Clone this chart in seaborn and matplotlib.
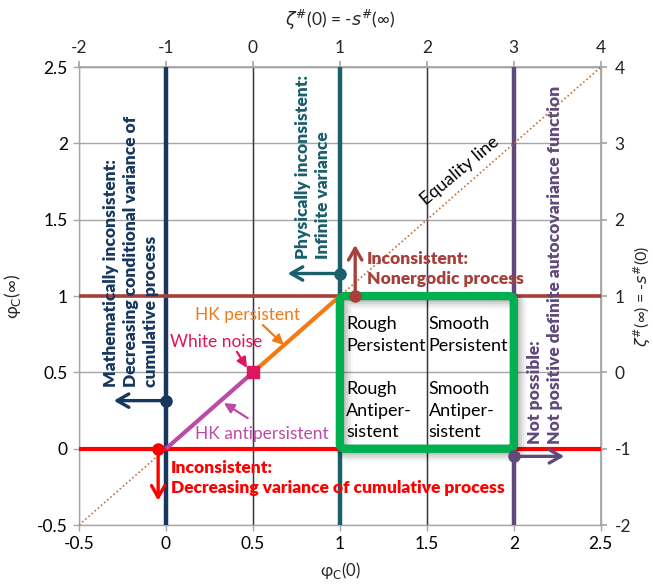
import matplotlib
matplotlib.use("Agg")
import matplotlib.pyplot as plt
from matplotlib.patches import FancyBboxPatch
import seaborn as sns
import pandas as pd

# Axis ranges and tick values
x_ticks = [-0.5, 0, 0.5, 1, 1.5, 2, 2.5]
x_tick_labels = ["-0.5", "0", "0.5", "1", "1.5", "2", "2.5"]
y_ticks = [-0.5, 0, 0.5, 1, 1.5, 2, 2.5]
y_tick_labels = ["-0.5", "0", "0.5", "1", "1.5", "2", "2.5"]
top_ticks = [-2, -1, 0, 1, 2, 3, 4]
right_ticks = [-2, -1, 0, 1, 2, 3, 4]

# Boundary lines of the admissible region
bound_x = [0, 1, 2]           # vertical limits of φC(0)
bound_y = [0, 1]              # horizontal limits of φC(∞)

# Equality line and the HK process branches
equality_x = [-0.5, 2.5]
hk_anti_x = [0.0, 0.5]
hk_pers_x = [0.5, 1.0]
white_noise = [0.5, 0.5]

# Admissible region box (x0, y0, x1, y1)
region = [1.0, 0.0, 2.0, 1.0]

# Constraint markers: start point and arrow tip
navy_start, navy_tip = (0.0, 0.315), (-0.30, 0.315)
teal_start, teal_tip = (1.0, 1.148), (0.70, 1.148)
brown_start, brown_tip = (1.088, 1.0), (1.088, 1.335)
red_start, red_tip = (-0.045, 0.0), (-0.045, -0.34)
purple_start, purple_tip = (2.0, -0.05), (2.29, -0.05)

NAVY = "#17375E"
TEAL = "#1B5E6C"
BROWN = "#A5403B"
RED = "#FF0000"
PURPLE = "#604A7B"
ORANGE = "#F47A12"
MAGENTA = "#BC4BA8"
CRIMSON = "#E0155D"
GREEN = "#00B050"
GRID = "#A6A6A6"

sns.set_theme(style="white")
plt.rcParams["font.family"] = ["Lato", "DejaVu Sans"]
plt.rcParams["axes.unicode_minus"] = False
plt.rcParams["mathtext.fontset"] = "dejavusans"

fig, ax = plt.subplots(figsize=(6.53, 5.84), dpi=100)
fig.subplots_adjust(left=0.121, right=0.920, bottom=0.101, top=0.885)

ax.set_xlim(-0.5, 2.5)
ax.set_ylim(-0.5, 2.5)

# Grid
for v in x_ticks:
    ax.axvline(v, color=GRID, lw=1.0, zorder=1)
for v in y_ticks:
    ax.axhline(v, color=GRID, lw=1.0, zorder=1)
for v in [0.5, 1.5]:
    ax.axvline(v, color="#403152", lw=1.0, zorder=1.5)

# Boundary lines
ax.axvline(bound_x[0], color=NAVY, lw=3.2, zorder=3)
ax.axvline(bound_x[1], color=TEAL, lw=3.2, zorder=3)
ax.axvline(bound_x[2], color=PURPLE, lw=3.2, zorder=3)
ax.axhline(bound_y[1], color=BROWN, lw=2.6, zorder=3)
ax.axhline(bound_y[0], color=RED, lw=3.0, zorder=3.1)

# Equality line and HK branches
eq_df = pd.DataFrame({"x": equality_x, "y": equality_x})
sns.lineplot(data=eq_df, x="x", y="y", ax=ax, color="#C0703A", lw=1.2,
             linestyle=(0, (1, 1.5)), zorder=4)
anti_df = pd.DataFrame({"x": hk_anti_x, "y": hk_anti_x})
sns.lineplot(data=anti_df, x="x", y="y", ax=ax, color=MAGENTA, lw=3.0,
             zorder=5, solid_capstyle="butt")
pers_df = pd.DataFrame({"x": hk_pers_x, "y": hk_pers_x})
sns.lineplot(data=pers_df, x="x", y="y", ax=ax, color=ORANGE, lw=3.0,
             zorder=5, solid_capstyle="butt")
ax.plot([white_noise[0]], [white_noise[1]], marker="s", ms=9,
        color=CRIMSON, zorder=6, ls="none")

# Admissible region box with a soft shadow
x0, y0, x1, y1 = region
for i, a in enumerate([0.10, 0.08, 0.06, 0.04]):
    off = 0.008 + 0.006 * i
    sh = FancyBboxPatch((x0 + off, y0 - off * 1.15), x1 - x0, y1 - y0,
                        boxstyle="round,pad=0,rounding_size=0.03",
                        fill=False, ec="black", lw=6 + 2 * i, alpha=a,
                        zorder=6)
    ax.add_patch(sh)
box = FancyBboxPatch((x0, y0), x1 - x0, y1 - y0,
                     boxstyle="round,pad=0,rounding_size=0.03",
                     fill=False, ec=GREEN, lw=6.0, zorder=7)
ax.add_patch(box)

box_kw = dict(fontsize=13, color="black", va="center", ha="left",
              linespacing=1.4, zorder=8)
ax.text(1.035, 0.745, "Rough\nPersistent", **box_kw)
ax.text(1.51, 0.745, "Smooth\nPersistent", **box_kw)
ax.text(1.035, 0.25, "Rough\nAntiper-\nsistent", **box_kw)
ax.text(1.51, 0.25, "Smooth\nAntiper-\nsistent", **box_kw)


def constraint(start, tip, color):
    ax.annotate("", xy=tip, xytext=start,
                arrowprops=dict(arrowstyle="->,head_length=0.7,head_width=0.4",
                                color=color, lw=2.4, shrinkA=0, shrinkB=0),
                zorder=9)
    ax.plot([start[0]], [start[1]], marker="o", ms=8, color=color,
            zorder=10, ls="none")


constraint(navy_start, navy_tip, NAVY)
constraint(teal_start, teal_tip, TEAL)
constraint(brown_start, brown_tip, BROWN)
constraint(red_start, red_tip, RED)
constraint(purple_start, purple_tip, PURPLE)

bold_kw = dict(fontsize=12.5, fontweight="heavy", zorder=9)
ax.text(-0.2, 0.405,
        "Mathematically inconsistent:\nDecreasing conditional variance of\ncumulative process",
        rotation=90, ha="center", va="bottom", multialignment="left",
        color=NAVY, linespacing=1.3, **bold_kw)
ax.text(0.845, 1.24, "Physically inconsistent:\nInfinite variance",
        rotation=90, ha="center", va="bottom", multialignment="left",
        color=TEAL, linespacing=1.3, **bold_kw)
ax.text(1.155, 1.175, "Inconsistent:\nNonergodic process",
        ha="left", va="center", color=BROWN, linespacing=1.3, **bold_kw)
ax.text(0.03, -0.19, "Inconsistent:\nDecreasing variance of cumulative process",
        ha="left", va="center", color=RED, linespacing=1.3, **bold_kw)
ax.text(2.18, 0.03,
        "Not possible:\nNot positive definite autocovariance function",
        rotation=90, ha="center", va="bottom", multialignment="left",
        color=PURPLE, linespacing=1.3, **bold_kw)

ax.text(1.69, 1.82, "Equality line", rotation=40, ha="center", va="center",
        fontsize=13, color="black", rotation_mode="anchor", zorder=9)

# Labels of the HK branches and white noise
ax.text(0.47, 0.877, "HK persistent", ha="center", va="center",
        fontsize=12.5, color=ORANGE, zorder=9)
ax.text(0.287, 0.70, "White noise", ha="center", va="center",
        fontsize=12.5, color=CRIMSON, zorder=9)
ax.text(0.553, 0.098, "HK antipersistent", ha="center", va="center",
        fontsize=12.5, color=MAGENTA, zorder=9)


def pointer(start, tip, color):
    ax.annotate("", xy=tip, xytext=start,
                arrowprops=dict(arrowstyle="-|>,head_length=0.5,head_width=0.25",
                                color=color, lw=1.6, shrinkA=0, shrinkB=0),
                zorder=9)


pointer((0.557, 0.81), (0.678, 0.68), ORANGE)
pointer((0.408, 0.635), (0.466, 0.53), CRIMSON)
pointer((0.47, 0.20), (0.333, 0.30), MAGENTA)

# Primary axes ticks and labels
ax.set_xticks(x_ticks)
ax.set_xticklabels(x_tick_labels)
ax.set_yticks(y_ticks)
ax.set_yticklabels(y_tick_labels)
ax.grid(False)
ax.tick_params(axis="both", direction="out", length=4, width=1,
               color=GRID, labelsize=12.5, labelcolor="black", pad=4,
               left=True, bottom=True)
for sp in ax.spines.values():
    sp.set_color(GRID)
    sp.set_linewidth(1.0)

ax.set_xlabel(r"φ$_\mathrm{C}$(0)", fontsize=12, labelpad=6)
ax.set_ylabel(r"φ$_\mathrm{C}$(∞)", fontsize=12.5, labelpad=10)

# Secondary axes: ζ#(0) = 2φC(0) - 1 and ζ#(∞) = 2φC(∞) - 1
top = ax.secondary_xaxis("top", functions=(lambda x: 2 * x - 1,
                                           lambda t: (t + 1) / 2))
top.set_xticks(top_ticks)
top.set_xticklabels([str(t) for t in top_ticks])
top.tick_params(direction="out", length=4, color=GRID, labelsize=12.5, pad=4)
top.spines["top"].set_color(GRID)
top.set_xlabel(r"$\zeta^{\#}$(0) = -$s^{\#}$(∞)", fontsize=12.5, labelpad=10)

right = ax.secondary_yaxis("right", functions=(lambda y: 2 * y - 1,
                                               lambda t: (t + 1) / 2))
right.set_yticks(right_ticks)
right.set_yticklabels([str(t) for t in right_ticks])
right.tick_params(direction="out", length=4, color=GRID, labelsize=12.5, pad=6)
right.spines["right"].set_color(GRID)
right.set_ylabel(r"$\zeta^{\#}$(∞) = -$s^{\#}$(0)", fontsize=11.5, labelpad=0,
                 rotation=90)

fig.savefig("out.png", dpi=100)
